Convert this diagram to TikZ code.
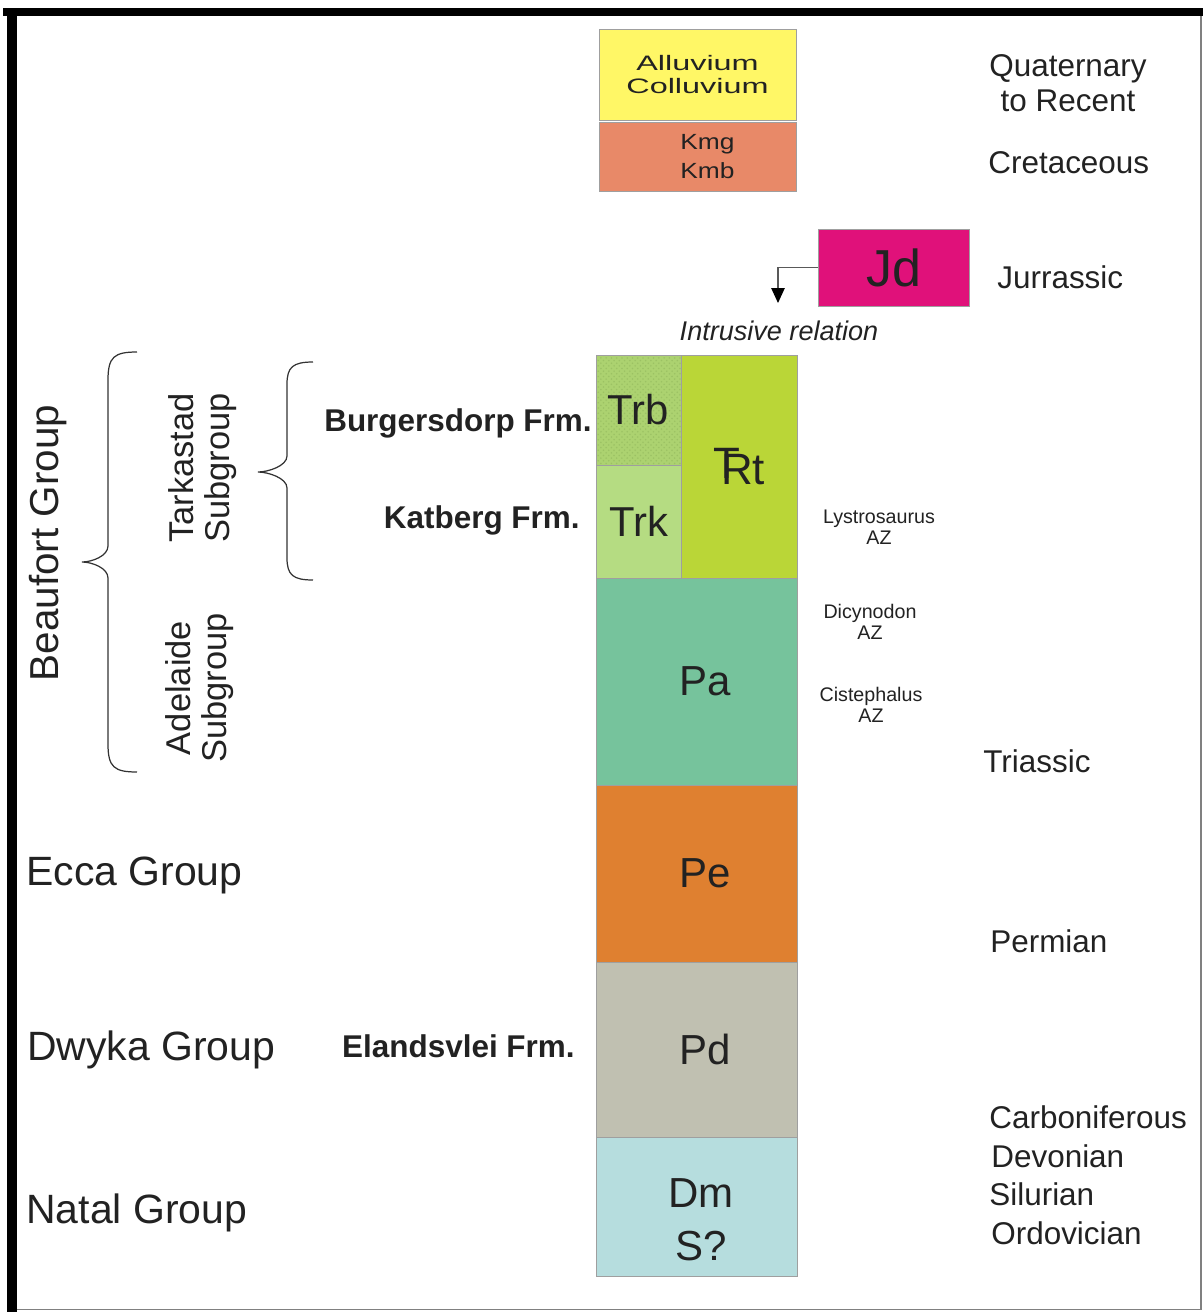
\documentclass[tikz,border=0pt]{standalone}
\usepackage{fontspec}
\setmainfont{Liberation Sans}
\newfontfamily\widefont[FakeStretch=1.55]{Liberation Sans}
\newfontfamily\kfont[FakeStretch=1.2]{Liberation Sans}
\usetikzlibrary{arrows.meta,patterns}
\newcommand{\fsz}[2]{\fontsize{#1pt}{#2pt}\selectfont}
\definecolor{cAllu}{RGB}{255,247,102}
\definecolor{cKmg}{RGB}{232,137,104}
\definecolor{cJd}{RGB}{224,17,122}
\definecolor{cTrb}{RGB}{172,210,112}
\definecolor{cTrbDot}{RGB}{156,194,100}
\definecolor{cTrk}{RGB}{181,220,130}
\definecolor{cTrt}{RGB}{186,214,55}
\definecolor{cPa}{RGB}{118,195,156}
\definecolor{cPe}{RGB}{223,128,48}
\definecolor{cPd}{RGB}{192,192,177}
\definecolor{cDm}{RGB}{182,221,222}
\definecolor{ink}{RGB}{34,34,34}

\begin{document}
\begin{tikzpicture}[x=0.02cm, y=-0.02cm, text=ink,
  unit/.style 2 args={draw=gray!75, line width=0.5pt, inner sep=0pt, align=center, minimum width=#1*0.02cm, minimum height=#2*0.02cm},
  grp/.style={anchor=base west, inner sep=0pt, font=\fsz{23.3}{27}},
  sub/.style={rotate=90, align=center, inner sep=0pt, font=\fsz{19.6}{20.5}},
  frm/.style={anchor=base east, inner sep=0pt, font=\fsz{17.9}{21}\bfseries},
  age/.style={anchor=base west, inner sep=0pt, font=\fsz{17.9}{21}},
  az/.style={align=center, inner sep=0pt, font=\fsz{11.2}{12}},
  big/.style={font=\fsz{23.8}{30}},
  mid/.style={font=\fsz{23.9}{30.2}},
  brc/.style={gray!40!black, line width=0.7pt}]
\useasboundingbox (0,0) rectangle (1203,1312);
% frame
\fill[black] (3,8) rectangle (1203,16);
\fill[black] (7,8) rectangle (17,1312);
\draw[gray, line width=0.6pt] (1201,16) -- (1201,1309.5) -- (17,1309.5);
% column
\node[unit={197}{91}, fill=cAllu, font=\widefont\fsz{11.9}{12.9}] (allu) at (697.5,74.5) {Alluvium\\Colluvium};
\node[unit={197}{69}, fill=cKmg, font=\kfont\fsz{12.5}{16.5}] (kmg) at (697.5,156.5) {\hspace*{0.9em}Kmg\\\hspace*{0.9em}Kmb};
\node[unit={151}{77}, fill=cJd, font=\fsz{29.6}{30}] (jd) at (893.5,267.5) {Jd};
\node[unit={85}{110}, big, preaction={fill=cTrb}, pattern=crosshatch dots, pattern color=cTrbDot] (trb) at (638.5,410) {Trb};
\node[unit={85}{113}, big, fill=cTrk] (trk) at (638.5,521.5) {Trk};
\node[unit={116}{223}, font=\fsz{25}{30}, fill=cTrt] (trt) at (739,466.5) {\raisebox{0.15em}{T}\kern-0.43em Rt};
\foreach \n/\c/\y/\h/\t in {pa/cPa/681.5/207/\hspace*{0.4em}Pa, pe/cPe/873.5/177/\hspace*{0.4em}Pe, pd/cPd/1049.5/175/\hspace*{0.4em}Pd, dm/cDm/1206.5/139/{\rule{0pt}{1.3em}\hspace*{0.2em}Dm\\\hspace*{0.2em}S?}}
  \node[unit={201}{\h}, mid, fill=\c] (\n) at (696.5,\y) {\t};
% intrusion
\coordinate (tip) at (778,303);
\draw[gray!70!black, line width=0.6pt, -{Triangle[length=0.3cm, width=0.27cm, color=black]}] (jd.west) -| (tip);
\node[inner sep=0pt, font=\fsz{15.4}{18}\itshape] (intr) at (779,331) {Intrusive relation};
% formations and groups
\node[frm] (burg) at (592,431) {Burgersdorp Frm.};
\node[frm] (katb) at (580,528) {Katberg Frm.};
\node[frm] (elan) at (575,1057) {Elandsvlei Frm.};
\node[grp] (ecca) at (26,885.5) {Ecca Group};
\node[grp] (dwyka) at (27,1060.5) {Dwyka Group};
\node[grp] (natal) at (26,1223) {Natal Group};
\node[rotate=90, inner sep=0pt, font=\fsz{23}{27}] (beau) at (48,543) {Beaufort Group};
\node[sub] (tark) at (203,468) {Tarkastad\\Subgroup};
\node[sub] (adel) at (200,688) {Adelaide\\Subgroup};
\foreach \xs/\xt/\xe/\ya/\yb/\ym/\c in {108/82/137/352/772/562/28, 287/258/313/362/580/472/22}
  \draw[brc] (\xe,\ya) .. controls (\xs+6,\ya) and (\xs,\ya+5) .. (\xs,\ya+\c) -- (\xs,\ym-16) .. controls (\xs,\ym-6) and (\xt+10,\ym) .. (\xt,\ym) .. controls (\xt+10,\ym) and (\xs,\ym+6) .. (\xs,\ym+16) -- (\xs,\yb-\c) .. controls (\xs,\yb-5) and (\xs+6,\yb) .. (\xe,\yb);
% ages and zones
\node[align=center, inner sep=0pt, font=\fsz{17.9}{19.9}] (quat) at (1068,83) {Quaternary\\to Recent};
\foreach \n/\t/\x/\y in {cret/Cretaceous/988/173, jur/Jurrassic/997/288, tri/Triassic/983/772, perm/Permian/990/952, carb/Carboniferous/989/1128, dev/Devonian/991/1167, sil/Silurian/989/1205, ord/Ordovician/991/1244}
  \node[age] (\n) at (\x,\y) {\t};
\node[az] (lyst) at (879,527.5) {Lystrosaurus\\AZ};
\node[az] (dicy) at (870,621.5) {Dicynodon\\AZ};
\node[az] (cist) at (871,705) {Cistephalus\\AZ};
\end{tikzpicture}
\end{document}
